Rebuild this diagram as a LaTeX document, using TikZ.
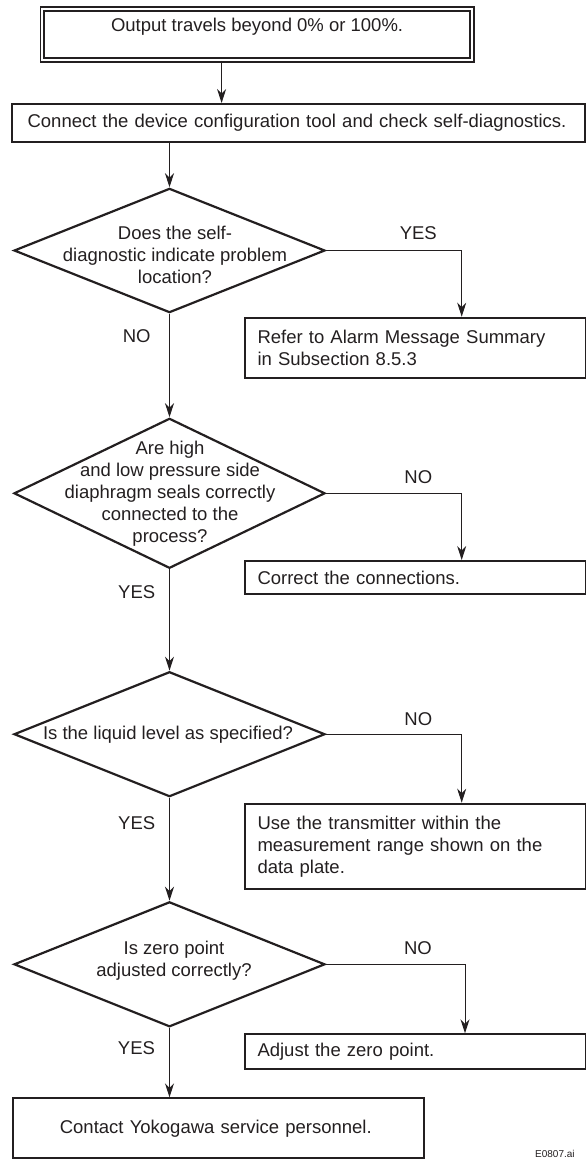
\documentclass[tikz,border=0pt]{standalone}
\usepackage{fontspec}
\setmainfont{Liberation Sans}
\usetikzlibrary{shapes.geometric,arrows.meta}
\definecolor{ink}{HTML}{231F20}
\begin{document}
\begin{tikzpicture}[x=1pt,y=-1pt,
  font=\fontsize{18.5}{22}\selectfont,
  every node/.style={text=ink},
  box/.style={draw=ink, line width=2pt, inner sep=0pt},
  rbox/.style={box, anchor=north west, inner xsep=12.5pt, text width=316pt, align=left},
  dia/.style={draw=ink, shape=diamond, line width=2.2pt, inner sep=0pt, minimum width=311pt},
  dtext/.style={inner sep=0pt, align=center},
  lbl/.style={inner sep=0pt},
  arr/.style={draw=ink, line width=1pt, -{Stealth[length=14pt,width=9pt,inset=4.5pt]}}]

\useasboundingbox (0,0) rectangle (586,1160);

% start box (double border)
\node[draw=ink, double, double distance=2.2pt, line width=1.5pt, minimum width=429.8pt,
      minimum height=51pt, inner sep=0pt, text height=13pt, text depth=19pt]
      (start) at (257.1,34.5) {Output travels beyond 0\% or 100\%.};

\node[box, minimum height=37.7pt, inner xsep=15.6pt, text width=541.8pt, align=left]
      (conn) at (298.5,122.9) {Connect the device configuration tool and check self-diagnostics.};

% decisions
\node[dia, minimum height=124.3pt] (d1) at (169.5,250.5) {};
\node[dtext] (d1t) at (175,255) {Does the self-\\diagnostic indicate problem\\location?};

\node[dia, minimum height=150pt] (d2) at (169.5,493.3) {};
\node[dtext] (d2t) at (170,493.8) {Are high\\and low pressure side\\diaphragm seals correctly\\connected to the\\process?};

\node[dia, minimum height=125pt] (d3) at (169.5,734.2) {};
\node[dtext] (d3t) at (168,735) {Is the liquid level as specified?};

\node[dia, minimum height=125pt] (d4) at (169.5,964.3) {};
\node[dtext] (d4t) at (174,961.2) {Is zero point\\adjusted correctly?};

% action boxes
\node[rbox, minimum height=60pt] (refer) at (244,316.7) {Refer to Alarm Message Summary\\in Subsection 8.5.3};
\node[rbox, minimum height=33pt] (correct) at (244,560) {Correct the connections.};
\node[rbox, minimum height=85.6pt] (use) at (244,802.7) {Use the transmitter within the\\measurement range shown on the\\data plate.};
\node[rbox, minimum height=35pt] (adjust) at (244,1033.3) {Adjust the zero point.};

\node[box, minimum height=60pt, inner xsep=47.1pt, text width=317.3pt, align=left]
      (contact) at (218.5,1128.3) {Contact Yokogawa service personnel.};

% labels
\node[lbl] (y1) at (418.3,233.3) {YES};
\node[lbl] (n1) at (136.7,336) {NO};
\node[lbl] (n2) at (418.3,476.7) {NO};
\node[lbl] (y2) at (136.7,591.7) {YES};
\node[lbl] (n3) at (418.3,719.3) {NO};
\node[lbl] (y3) at (136.7,822.7) {YES};
\node[lbl] (n4) at (418,948.3) {NO};
\node[lbl] (y4) at (136.5,1048.3) {YES};

\node[anchor=base west, inner sep=0pt, font=\fontsize{10}{12}\selectfont] (fig) at (535,1157.5) {E0807.ai};

% connectors
\coordinate (ca) at (221.6,0);
\coordinate (c1) at (461.7,0);
\coordinate (c4) at (465,0);

\draw[arr] (start.south -| ca) -- (conn.north -| ca);
\draw[arr] (conn.south -| d1.north) -- (d1.north);
\draw[arr] (d1.east) -| (refer.north -| c1);
\draw[arr] (d1.south) -- (d2.north);
\draw[arr] (d2.east) -| (correct.north -| c1);
\draw[arr] (d2.south) -- (d3.north);
\draw[arr] (d3.east) -| (use.north -| c1);
\draw[arr] (d3.south) -- (d4.north);
\draw[arr] (d4.east) -| (adjust.north -| c4);
\draw[arr] (d4.south) -- (contact.north -| d4.south);
\end{tikzpicture}
\end{document}
